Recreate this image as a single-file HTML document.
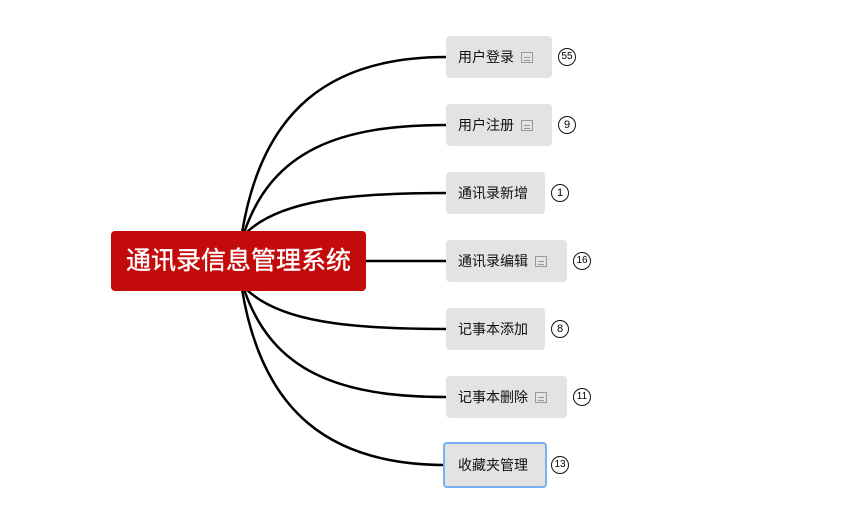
<!DOCTYPE html>
<html><head><meta charset="utf-8"><style>
body{margin:0;width:842px;height:530px;background:#fff;position:relative;overflow:hidden;font-family:"Liberation Sans","Noto Sans CJK SC",sans-serif}
.root{position:absolute;left:111px;top:231px;width:255px;height:60px;background:#c40b0b;border-radius:4px;color:#fff;font-size:25px;line-height:60px;text-align:center;-webkit-text-stroke:0.4px #fff}
.n{position:absolute;height:42px;background:#e3e3e3;border-radius:4px;font-size:14px;line-height:42px;color:#111;padding-left:12px;box-sizing:border-box}
.ic{display:inline-block;width:12px;height:11px;border:1px solid #999;margin-left:7px;vertical-align:-1px;box-sizing:border-box;background:linear-gradient(#999,#999) 2px 4px/6px 1px no-repeat,linear-gradient(#999,#999) 2px 7px/6px 1px no-repeat}
.b{position:absolute;width:18px;height:18px;border:1.4px solid #111;border-radius:50%;font-size:11px;line-height:16px;text-align:center;box-sizing:border-box}
</style></head><body>
<svg width="842" height="530" style="position:absolute;left:0;top:0" fill="none" stroke="#000" stroke-width="2.5">
<path d="M242,233 C262,110 330,57 446,57"/>
<path d="M244,233 C272,150 340,125 446,125"/>
<path d="M246,233 C280,200 350,193 446,193"/>
<path d="M366,261 L446,261"/>
<path d="M246,289 C280,322 350,329 446,329"/>
<path d="M244,289 C272,372 340,397 446,397"/>
<path d="M242,289 C262,412 330,465 446,465"/>
</svg>
<div class="root">通讯录信息管理系统</div>
<div class="n" style="left:446px;top:36px;width:106px">用户登录<span class="ic"></span></div>
<div class="b" style="left:558px;top:48px;font-size:10px">55</div>
<div class="n" style="left:446px;top:104px;width:106px">用户注册<span class="ic"></span></div>
<div class="b" style="left:558px;top:116px">9</div>
<div class="n" style="left:446px;top:172px;width:99px">通讯录新增</div>
<div class="b" style="left:551px;top:184px">1</div>
<div class="n" style="left:446px;top:240px;width:121px">通讯录编辑<span class="ic"></span></div>
<div class="b" style="left:573px;top:252px;font-size:10px">16</div>
<div class="n" style="left:446px;top:308px;width:99px">记事本添加</div>
<div class="b" style="left:551px;top:320px">8</div>
<div class="n" style="left:446px;top:376px;width:121px">记事本删除<span class="ic"></span></div>
<div class="b" style="left:573px;top:388px;font-size:10px">11</div>
<div class="n" style="left:443px;top:442px;width:104px;height:46px;border:2px solid #7ab0f0;line-height:42px;padding-left:13px">收藏夹管理</div>
<div class="b" style="left:551px;top:456px;font-size:10px">13</div>
</body></html>
